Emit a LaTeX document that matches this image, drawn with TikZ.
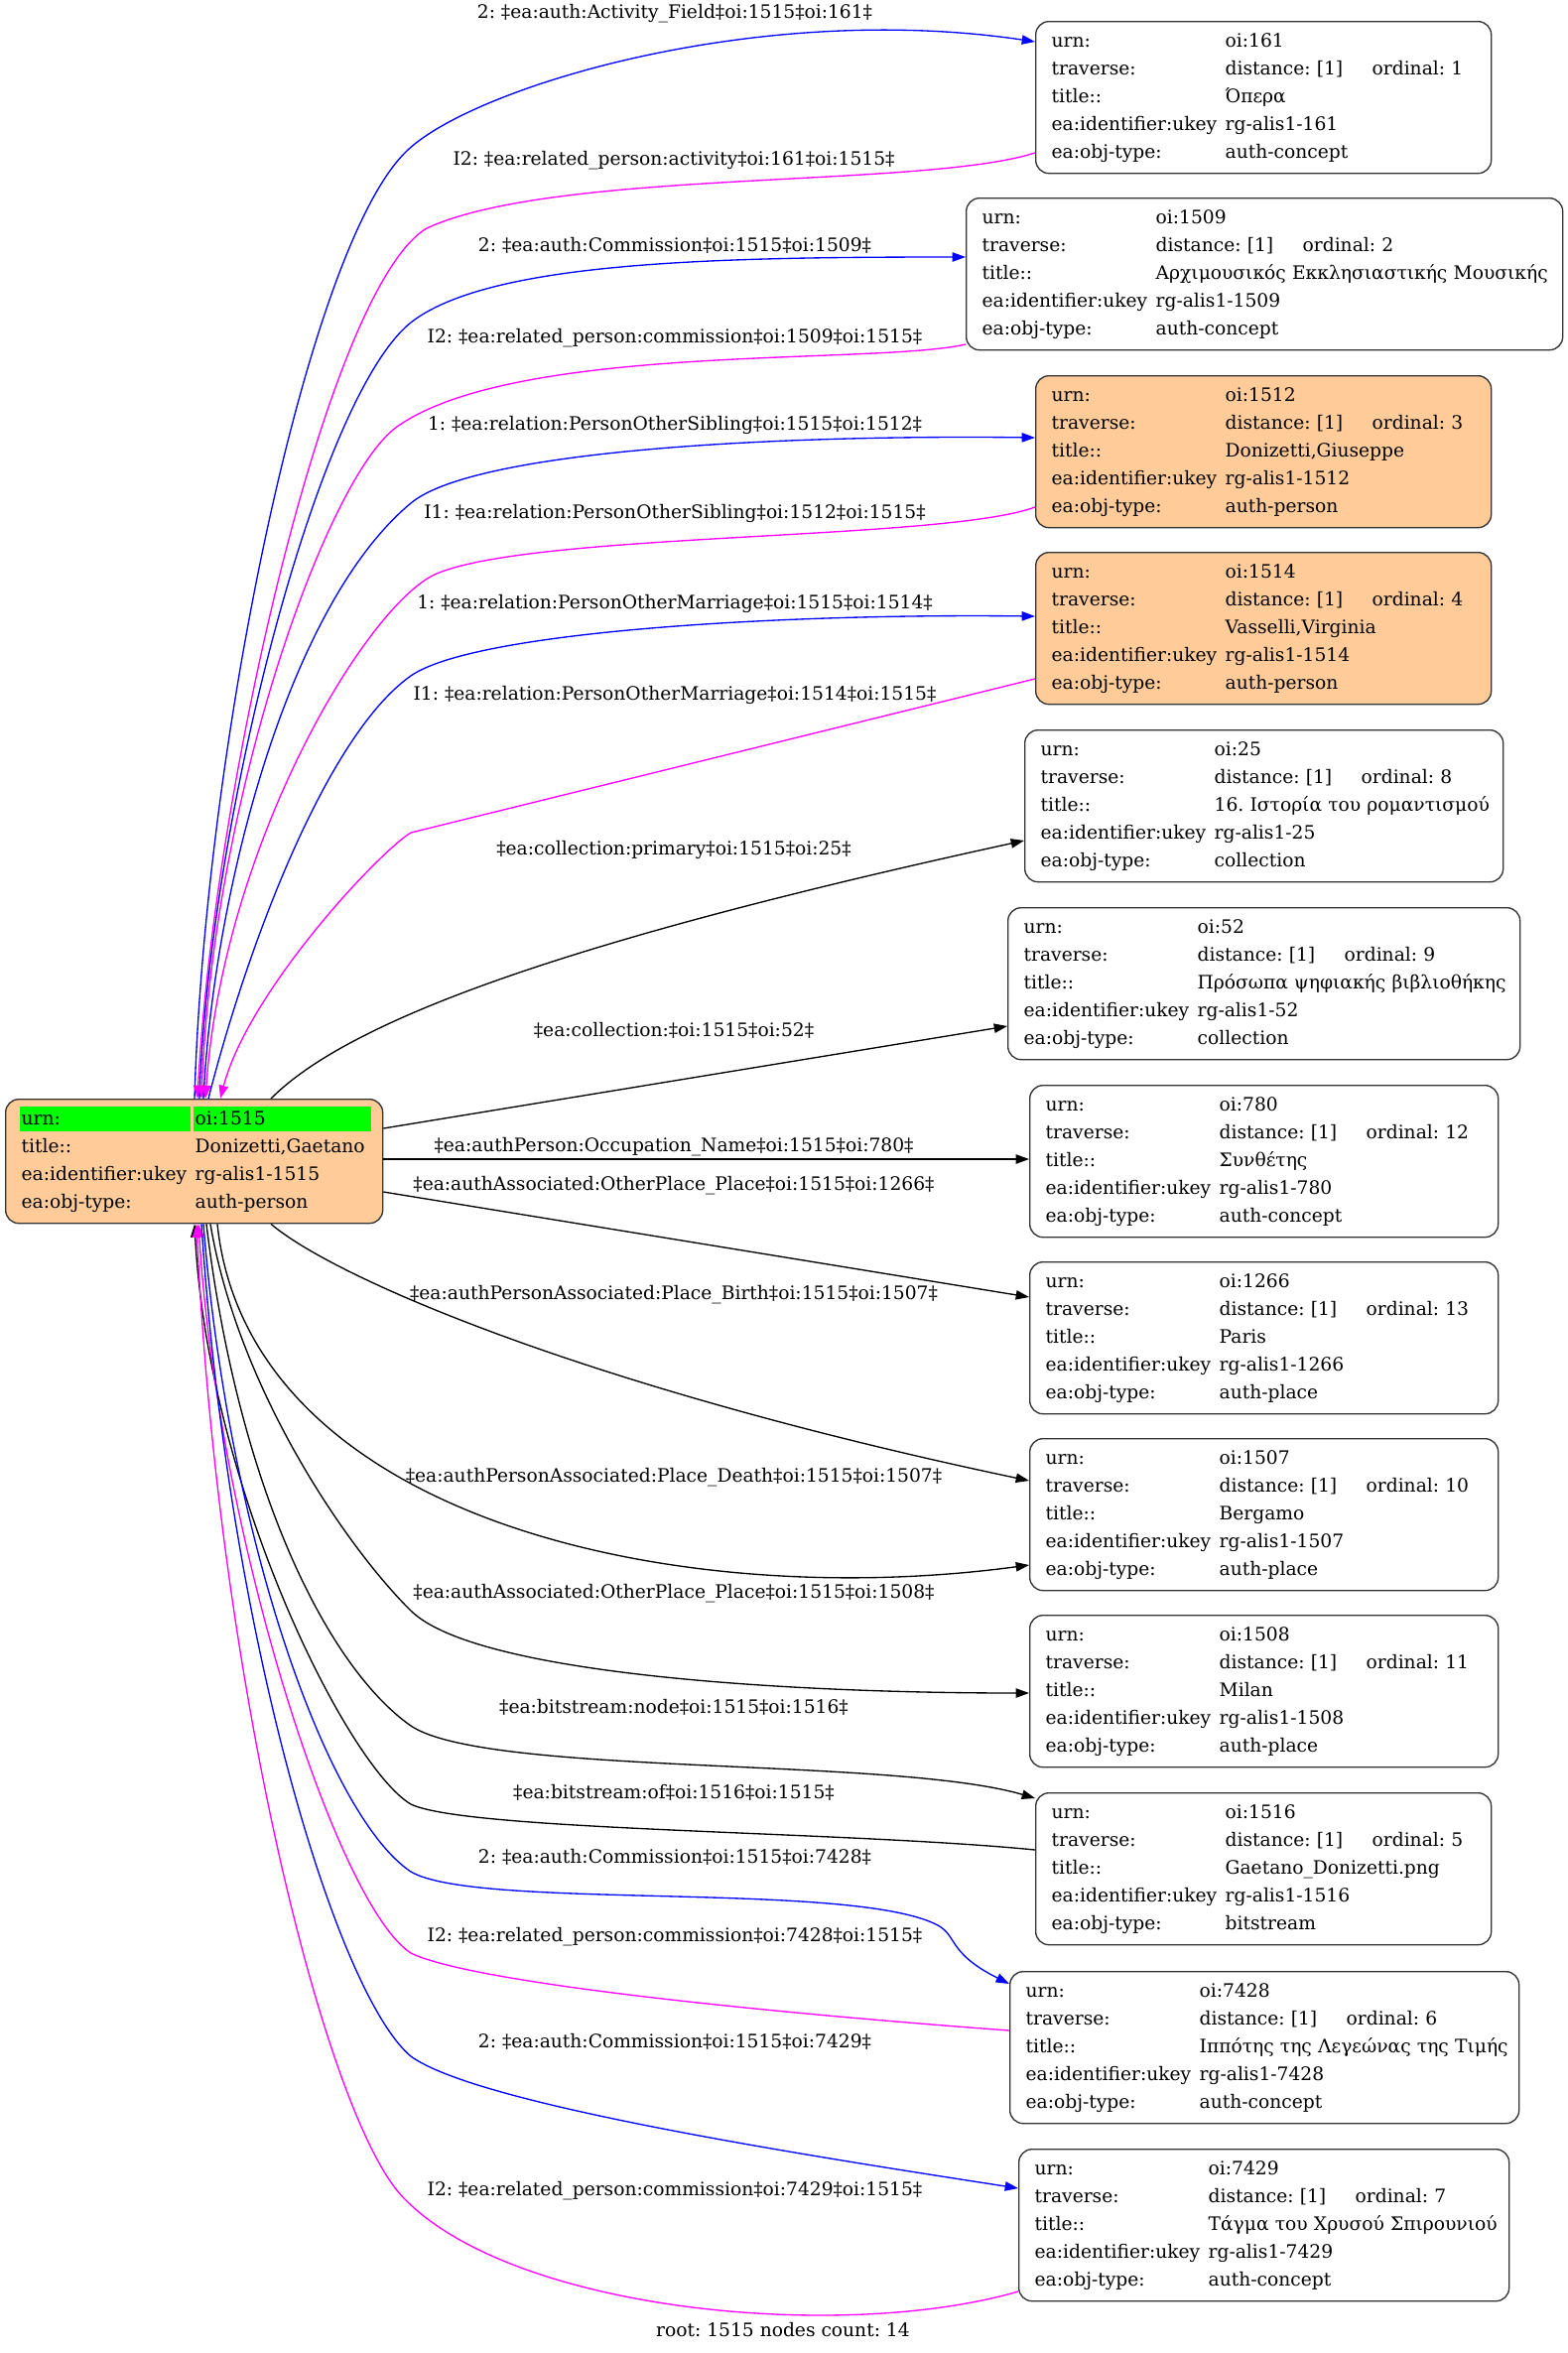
\documentclass[tikz,border=0pt]{standalone}
\usepackage{fontspec}
\setmainfont{DejaVu Serif}
\usepackage{tikz}
\usetikzlibrary{calc}
\usetikzlibrary{arrows.meta}
\definecolor{persfill}{HTML}{FFCC99}
\definecolor{rootgreen}{HTML}{00FF00}
\definecolor{linkblue}{HTML}{0000FF}
\definecolor{linkmagenta}{HTML}{FF00FF}
\tikzset{>={Triangle[length=10pt,width=7pt]}}
\frenchspacing

% one row key, then the five rows of an object box
\newcommand{\keycell}[1]{\makebox[131.25pt][l]{#1}}
\newcommand{\objinfo}[4]{%
  \keycell{urn:}\mbox{oi:#1}\\
  \keycell{traverse:}\makebox[111pt][l]{distance: [1]}\mbox{ordinal: #2}\\
  \keycell{title::}\mbox{#3}\\
  \keycell{ea:identifier:ukey}\mbox{rg-alis1-#1}\\
  \keycell{ea:obj-type:}\mbox{#4}}

\begin{document}
\begin{tikzpicture}[x=0.75pt,y=-0.75pt,
  objbox/.style={draw=black!80, line width=1pt, rounded corners=10pt, anchor=north west,
    inner xsep=12pt, inner ysep=0pt, minimum height=114.75pt, text width=#1,
    align=left, font=\fontsize{14}{21}\selectfont},
  persbox/.style={objbox=#1, fill=persfill},
  edgelbl/.style={font=\fontsize{14}{17}\selectfont, inner sep=0pt},
  outedge/.style={->, line width=1pt, linkblue},
  inedge/.style={->, line width=1pt, linkmagenta},
  coledge/.style={->, line width=1pt, black}]

\useasboundingbox (0,0) rectangle (1579,2371);

% Root object
\node[persbox=261pt, minimum height=93.75pt,
  path picture={
    \fill[rootgreen, sharp corners] ($(path picture bounding box.north west)+(14,7)$) rectangle +(172,25);
    \fill[rootgreen, sharp corners] ($(path picture bounding box.north west)+(189,7)$) rectangle +(179,25);
  }] (root) at (5,1107)
  {\keycell{urn:}oi:1515\\
   \keycell{title::}Donizetti,Gaetano\\
   \keycell{ea:identifier:ukey}rg-alis1-1515\\
   \keycell{ea:obj-type:}auth-person};

% Related objects
\node[objbox=320.25pt] (n161) at (1043,21) {\objinfo{161}{1}{Όπερα}{auth-concept}};
\node[objbox=426.75pt] (n1509) at (973,199) {\objinfo{1509}{2}{Αρχιμουσικός Εκκλησιαστικής Μουσικής}{auth-concept}};
\node[persbox=320.25pt] (n1512) at (1043,378) {\objinfo{1512}{3}{Donizetti,Giuseppe}{auth-person}};
\node[persbox=320.25pt] (n1514) at (1043,556) {\objinfo{1514}{4}{Vasselli,Virginia}{auth-person}};
\node[objbox=337.5pt] (n25) at (1032,735) {\objinfo{25}{8}{16. Ιστορία του ρομαντισμού}{collection}};
\node[objbox=363pt] (n52) at (1015,914) {\objinfo{52}{9}{Πρόσωπα ψηφιακής βιβλιοθήκης}{collection}};
\node[objbox=330pt] (n780) at (1037,1093) {\objinfo{780}{12}{Συνθέτης}{auth-concept}};
\node[objbox=330pt] (n1266) at (1037,1271) {\objinfo{1266}{13}{Paris}{auth-place}};
\node[objbox=330pt] (n1507) at (1037,1449) {\objinfo{1507}{10}{Bergamo}{auth-place}};
\node[objbox=330pt] (n1508) at (1037,1627) {\objinfo{1508}{11}{Milan}{auth-place}};
\node[objbox=320.25pt] (n1516) at (1043,1806) {\objinfo{1516}{5}{Gaetano\_Donizetti.png}{bitstream}};
\node[objbox=360.75pt] (n7428) at (1017,1986) {\objinfo{7428}{6}{Ιππότης της Λεγεώνας της Τιμής}{auth-concept}};
\node[objbox=346.5pt] (n7429) at (1026,2165) {\objinfo{7429}{7}{Τάγμα του Χρυσού Σπιρουνιού}{auth-concept}};

% Links over the root
\draw[outedge] ($(root.north west)+(191,0)$) .. controls (206,760) and (308,254) .. (408,154)
  .. controls (470,90) and (760,0) .. ($(n161.north west)+(0,21)$);
\draw[inedge] ($(n161.north west)+(0,133)$) .. controls (930,190) and (560,170) .. (430,230)
  .. controls (330,290) and (215,800) .. ($(root.north west)+(194,0)$);
\draw[outedge] ($(root.north west)+(196,0)$) .. controls (210,830) and (320,400) .. (414,325)
  .. controls (493,263) and (724,259) .. ($(n1509.north west)+(0,60)$);
\draw[inedge] ($(n1509.north west)+(0,148)$) .. controls (880,368) and (520,345) .. (400,430)
  .. controls (330,480) and (215,800) .. ($(root.north west)+(198,0)$);
\draw[outedge] ($(root.north west)+(200,0)$) .. controls (215,900) and (290,610) .. (414,507)
  .. controls (480,452) and (800,438) .. ($(n1512.north west)+(0,63)$);
\draw[inedge] ($(n1512.north west)+(0,133)$) .. controls (950,545) and (540,536) .. (440,578)
  .. controls (370,608) and (225,850) .. ($(root.north west)+(202,0)$);
\draw[outedge] ($(root.north west)+(205,0)$) .. controls (250,950) and (330,740) .. (414,681)
  .. controls (480,635) and (800,618) .. ($(n1514.north west)+(0,65)$);
\draw[inedge] ($(n1514.north west)+(0,128)$) -- (414,839)
  .. controls (380,860) and (250,1000) .. ($(root.north west)+(217,0)$);
\draw[coledge] ($(root.north west)+(268,0)$) .. controls (350,1030) and (560,950) .. ($(n25.north west)+(0,112)$);

% Links on the right side
\draw[coledge] ($(root.north east)+(0,30)$) -- ($(n52.north west)+(0,120)$);
\draw[coledge] ($(root.north east)+(0,61)$) -- ($(n780.north west)+(0,75)$);
\draw[coledge] ($(root.north east)+(0,94)$) -- ($(n1266.north west)+(0,36)$);

% Links under the root
\draw[coledge] ($(root.south west)+(268,0)$) .. controls (340,1290) and (600,1400) .. ($(n1507.north west)+(0,43)$);
\draw[coledge] ($(root.south west)+(214,0)$) .. controls (250,1530) and (680,1625) .. ($(n1507.north west)+(0,128)$);
\draw[coledge] ($(root.south west)+(207,0)$) .. controls (240,1400) and (350,1560) .. (414,1623)
  .. controls (480,1688) and (800,1706) .. ($(n1508.north west)+(0,79)$);
\draw[coledge] ($(root.south west)+(203,0)$) .. controls (240,1500) and (330,1680) .. (414,1739)
  .. controls (490,1790) and (900,1770) .. ($(n1516.north west)+(0,6)$);
\draw[coledge] ($(n1516.north west)+(0,58)$) .. controls (850,1845) and (470,1845) .. (414,1818)
  .. controls (350,1780) and (210,1500) .. ($(root.south west)+(191,0)$);
\draw[outedge] ($(root.south west)+(200,0)$) .. controls (230,1550) and (330,1830) .. (414,1886)
  .. controls (480,1925) and (860,1895) .. (945,1940)
  .. controls (965,1951) and (955,1968) .. ($(n7428.north west)+(0,13)$);
\draw[inedge] ($(n7428.north west)+(0,60)$) .. controls (800,2030) and (480,2000) .. (414,1968)
  .. controls (340,1920) and (220,1550) .. ($(root.south west)+(195,0)$);
\draw[outedge] ($(root.south west)+(198,0)$) .. controls (230,1650) and (340,2010) .. (414,2072)
  .. controls (480,2120) and (800,2170) .. ($(n7429.north west)+(0,40)$);
\draw[inedge] ($(n7429.north west)+(0,144)$) .. controls (850,2360) and (520,2330) .. (408,2216)
  .. controls (330,2140) and (220,1700) .. ($(root.south west)+(193,0)$);

% Link labels
\node[edgelbl] (l1) at (680,14) {2: ‡ea:auth:Activity\_Field‡oi:1515‡oi:161‡};
\node[edgelbl] (l2) at (679,162) {I2: ‡ea:related\_person:activity‡oi:161‡oi:1515‡};
\node[edgelbl] (l3) at (680,247) {2: ‡ea:auth:Commission‡oi:1515‡oi:1509‡};
\node[edgelbl] (l4) at (680,341) {I2: ‡ea:related\_person:commission‡oi:1509‡oi:1515‡};
\node[edgelbl] (l5) at (680,428) {1: ‡ea:relation:PersonOtherSibling‡oi:1515‡oi:1512‡};
\node[edgelbl] (l6) at (680,517) {I1: ‡ea:relation:PersonOtherSibling‡oi:1512‡oi:1515‡};
\node[edgelbl] (l7) at (680,608) {1: ‡ea:relation:PersonOtherMarriage‡oi:1515‡oi:1514‡};
\node[edgelbl] (l8) at (680,700) {I1: ‡ea:relation:PersonOtherMarriage‡oi:1514‡oi:1515‡};
\node[edgelbl] (l9) at (679,856) {‡ea:collection:primary‡oi:1515‡oi:25‡};
\node[edgelbl] (l10) at (679,1038) {‡ea:collection:‡oi:1515‡oi:52‡};
\node[edgelbl] (l11) at (679,1156) {‡ea:authPerson:Occupation\_Name‡oi:1515‡oi:780‡};
\node[edgelbl] (l12) at (679,1195) {‡ea:authAssociated:OtherPlace\_Place‡oi:1515‡oi:1266‡};
\node[edgelbl] (l13) at (679,1305) {‡ea:authPersonAssociated:Place\_Birth‡oi:1515‡oi:1507‡};
\node[edgelbl] (l14) at (679,1489) {‡ea:authPersonAssociated:Place\_Death‡oi:1515‡oi:1507‡};
\node[edgelbl] (l15) at (679,1606) {‡ea:authAssociated:OtherPlace\_Place‡oi:1515‡oi:1508‡};
\node[edgelbl] (l16) at (679,1720) {‡ea:bitstream:node‡oi:1515‡oi:1516‡};
\node[edgelbl] (l17) at (679,1806) {‡ea:bitstream:of‡oi:1516‡oi:1515‡};
\node[edgelbl] (l18) at (680,1871) {2: ‡ea:auth:Commission‡oi:1515‡oi:7428‡};
\node[edgelbl] (l19) at (680,1952) {I2: ‡ea:related\_person:commission‡oi:7428‡oi:1515‡};
\node[edgelbl] (l20) at (680,2057) {2: ‡ea:auth:Commission‡oi:1515‡oi:7429‡};
\node[edgelbl] (l21) at (680,2208) {I2: ‡ea:related\_person:commission‡oi:7429‡oi:1515‡};

% Footer
\node[edgelbl] (foot) at (789,2348) {root: 1515 nodes count: 14};

\end{tikzpicture}
\end{document}
